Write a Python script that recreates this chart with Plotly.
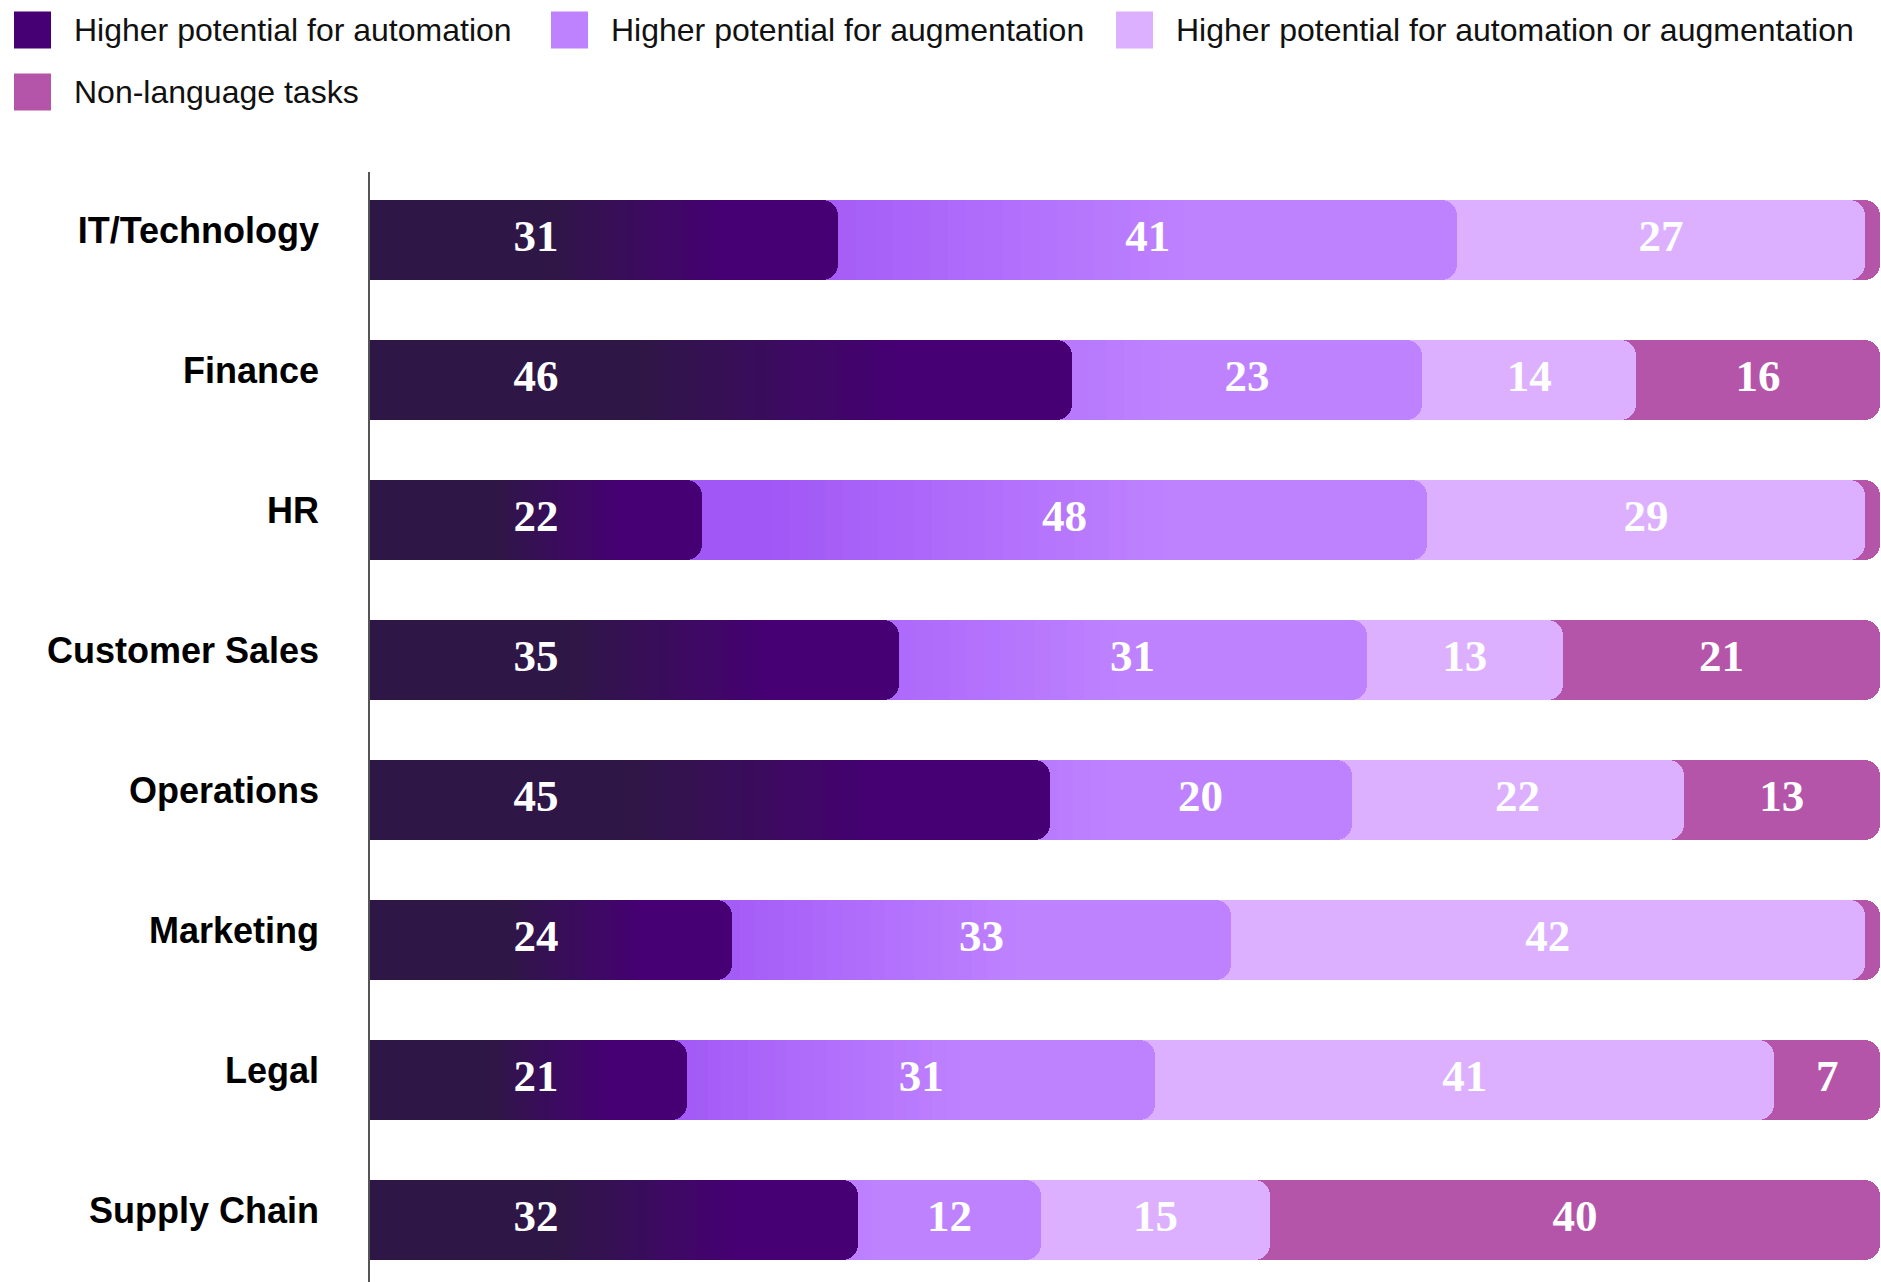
import plotly.graph_objects as go

# ---------------- data ----------------
categories = ["IT/Technology", "Finance", "HR", "Customer Sales",
              "Operations", "Marketing", "Legal", "Supply Chain"]
automation = [31, 46, 22, 35, 45, 24, 21, 32]
augmentation = [41, 23, 48, 31, 20, 33, 31, 12]
either = [27, 14, 29, 13, 22, 42, 41, 15]
non_language = [1, 16, 1, 21, 13, 1, 7, 40]
series_names = ["Higher potential for automation",
                "Higher potential for augmentation",
                "Higher potential for automation or augmentation",
                "Non-language tasks"]

# ---------------- style ----------------
C_AUTO_DARK = "#2E1746"
C_AUTO = "#460073"
C_AUG_BRIGHT = "#A157F6"
C_AUG = "#BE82FF"
C_EITHER = "#DCAFFF"
C_NONLANG = "#B455AA"

W, H = 1881, 1282
ML, MR, MT, MB = 370, 1, 172, 0
PW, PH = W - ML - MR, H - MT - MB
BASE = -5          # start bars left of the axis so left rounding is clipped
BAR_W = 0.57
RADIUS = 16
FIRST_LABEL_X = 11
N_STEPS = 22
P0, P1 = 0.38, 0.75

LABEL_FONT = dict(family="Liberation Serif, serif", size=45, color="white", weight="bold")
TICK_FONT = dict(family="Arial, Liberation Sans, sans-serif", size=36, color="#000000", weight="bold")
LEG_FONT = dict(family="Arial, Liberation Sans, sans-serif", size=32, color="#111111")


def hex2rgb(h):
    h = h.lstrip("#")
    return [int(h[i:i + 2], 16) for i in (0, 2, 4)]


def mix(c0, c1, t):
    a, b = hex2rgb(c0), hex2rgb(c1)
    return "rgb({},{},{})".format(*[round(a[i] + (b[i] - a[i]) * t) for i in range(3)])


def grad_color(p, c0, c1):
    t = min(1.0, max(0.0, (p - P0) / (P1 - P0)))
    return mix(c0, c1, t)


# 100%-normalised cumulative positions (rows whose rounded values sum to 99 fill the bar)
totals = [a + b + c + d for a, b, c, d in zip(automation, augmentation, either, non_language)]
cum1 = [a * 100 / t for a, t in zip(automation, totals)]
cum2 = [(a + b) * 100 / t for a, b, t in zip(automation, augmentation, totals)]
cum3 = [(a + b + c) * 100 / t for a, b, c, t in zip(automation, augmentation, either, totals)]
cum4 = [100.0 for _ in totals]

fig = go.Figure()


def add_bar(ends, color, radius, name):
    fig.add_trace(go.Bar(
        orientation="h", y=categories, x=[e - BASE for e in ends], base=BASE,
        width=BAR_W, marker=dict(color=color, line=dict(width=0), cornerradius=radius),
        name=name, showlegend=False, hoverinfo="skip"))


def add_gradient(ends, c0, c1):
    fr = [P1 - (P1 - P0) * k / N_STEPS for k in range(N_STEPS + 1)]
    for k, f in enumerate(fr):
        if k + 1 < len(fr):
            col = grad_color((f + fr[k + 1]) / 2, c0, c1)
        else:
            col = c0
        add_bar([e * f for e in ends], col, 0, "grad")


# draw from the back (longest cumulative) to the front
add_bar(cum4, C_NONLANG, RADIUS, series_names[3])
add_bar(cum3, C_EITHER, RADIUS, series_names[2])
add_bar(cum2, C_AUG, RADIUS, series_names[1])
add_gradient(cum2, C_AUG_BRIGHT, C_AUG)
add_bar(cum1, C_AUTO, RADIUS, series_names[0])
add_gradient(cum1, C_AUTO_DARK, C_AUTO)

# value labels
label_sets = [
    ([FIRST_LABEL_X] * len(categories), automation),
    ([(s + e) / 2 for s, e in zip(cum1, cum2)], augmentation),
    ([(s + e) / 2 for s, e in zip(cum2, cum3)], either),
    ([(s + e) / 2 for s, e in zip(cum3, cum4)], non_language),
]
for xs, vals in label_sets:
    keep = [i for i, v in enumerate(vals) if v >= 5]
    fig.add_trace(go.Scatter(
        x=[xs[i] for i in keep], y=[categories[i] for i in keep],
        text=[str(vals[i]) for i in keep], mode="text",
        textposition="middle center", textfont=LABEL_FONT,
        showlegend=False, hoverinfo="skip", cliponaxis=False))


# manual legend
def px_x(x):
    return (x - ML) / PW


def px_y(y):
    return 1 - (y - MT) / PH


legend_items = [
    (series_names[0], C_AUTO, 14, 30),
    (series_names[1], C_AUG, 551, 30),
    (series_names[2], C_EITHER, 1116, 30),
    (series_names[3], C_NONLANG, 14, 92),
]
SQ = 37
for name, col, x0, yc in legend_items:
    fig.add_shape(type="rect", xref="paper", yref="paper",
                  x0=px_x(x0), x1=px_x(x0 + SQ),
                  y0=px_y(yc - SQ / 2), y1=px_y(yc + SQ / 2),
                  fillcolor=col, line=dict(width=0))
    fig.add_annotation(xref="paper", yref="paper", x=px_x(x0 + SQ + 21), y=px_y(yc),
                       xanchor="left", yanchor="middle", text=name,
                       showarrow=False, font=LEG_FONT)

n = len(categories)
fig.update_layout(
    width=W, height=H, barmode="overlay", bargap=0,
    margin=dict(l=ML, r=MR, t=MT, b=MB, pad=0),
    paper_bgcolor="white", plot_bgcolor="white",
    showlegend=False,
    xaxis=dict(range=[0, 100], visible=False, fixedrange=True),
    yaxis=dict(type="category", categoryorder="array", categoryarray=categories,
               range=[n - 1 + 0.443, -0.486], showline=True, linecolor="#555555",
               linewidth=1.5, showgrid=False, zeroline=False, ticks="",
               ticklabelstandoff=42, ticklabelshift=10, tickfont=TICK_FONT,
               fixedrange=True),
)

fig.write_html("out.html", config={"displayModeBar": False},
               post_script="document.body.style.margin='0';document.body.style.overflow='hidden';")
